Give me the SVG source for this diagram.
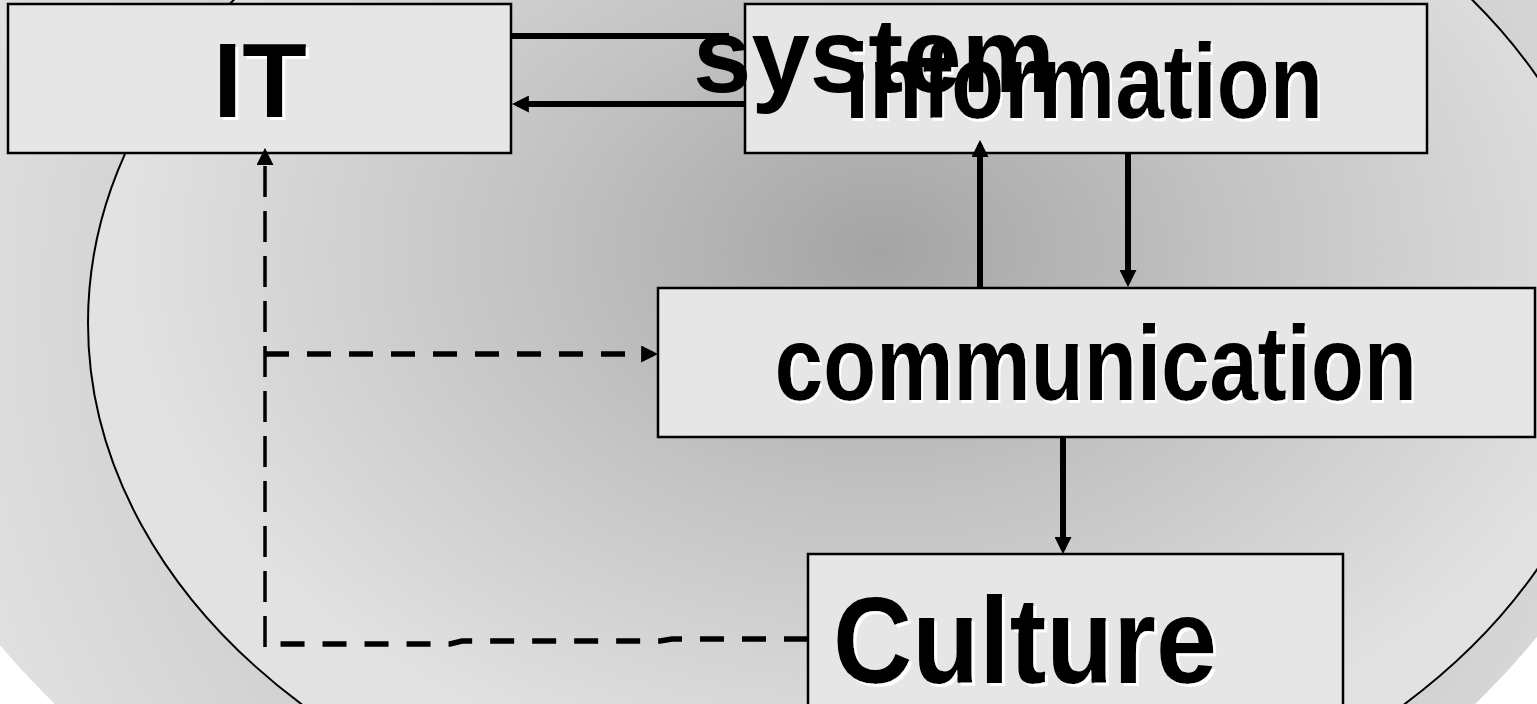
<svg xmlns="http://www.w3.org/2000/svg" width="1537" height="704" viewBox="0 0 1537 704">
<defs>
<radialGradient id="gOuter" gradientUnits="userSpaceOnUse" cx="850" cy="300" r="920">
<stop offset="0" stop-color="#b0b0b0"/>
<stop offset="0.7" stop-color="#cfcfcf"/>
<stop offset="1" stop-color="#e0e0e0"/>
</radialGradient>
<radialGradient id="gInner" cx="0.518" cy="0.434" r="0.5">
<stop offset="0" stop-color="#a4a4a4"/>
<stop offset="0.45" stop-color="#c2c2c2"/>
<stop offset="1" stop-color="#e2e2e2"/>
</radialGradient>
<filter id="shadow" x="-10%" y="-10%" width="120%" height="130%">
<feFlood flood-color="#ffffff" result="f"/>
<feComposite in="f" in2="SourceAlpha" operator="in" result="s"/>
<feOffset in="s" dx="3" dy="3" result="o"/>
<feMerge><feMergeNode in="o"/><feMergeNode in="SourceGraphic"/></feMerge>
</filter>
<marker id="ah" viewBox="0 0 10 10" refX="7" refY="5" markerWidth="17" markerHeight="17" markerUnits="userSpaceOnUse" orient="auto">
<path d="M0,0 L10,5 L0,10 z" fill="#000"/>
</marker>
</defs>
<style>
.box{fill:#e6e6e6;stroke:#000;stroke-width:2.5}
.lbl{font-family:"Liberation Sans",Arial,sans-serif;font-weight:bold;fill:#000;text-anchor:middle}
.solid{fill:none;stroke:#000;stroke-width:6}
.dash{fill:none;stroke:#000;stroke-width:5.5;stroke-dasharray:24 18}
.vdash{fill:none;stroke:#000;stroke-width:3.5;stroke-dasharray:31 14}
</style>
<rect width="1537" height="704" fill="#ffffff"/>
<ellipse cx="765" cy="200" rx="934" ry="776" fill="url(#gOuter)"/>
<ellipse cx="853" cy="323" rx="765" ry="550" fill="url(#gInner)" stroke="#000" stroke-width="2"/>
<g id="node-it">
<rect class="box" x="8" y="4" width="503" height="149"/>
<text class="lbl" x="260" y="117" font-size="106" filter="url(#shadow)">IT</text>
</g>
<g id="node-information">
<rect class="box" x="745" y="4" width="682" height="149"/>
<text class="lbl" transform="translate(1084,118) scale(0.82,1)" font-size="106" filter="url(#shadow)">information</text>
</g>
<g id="node-communication">
<rect class="box" x="658" y="288" width="877" height="149"/>
<text class="lbl" transform="translate(1096,400) scale(0.82,1)" font-size="106" filter="url(#shadow)">communication</text>
</g>
<g id="node-culture">
<rect class="box" x="808" y="554" width="535" height="152"/>
<text class="lbl" transform="translate(1025,683) scale(0.9,1)" font-size="122" filter="url(#shadow)">Culture</text>
</g>
<g id="connectors">
<line class="solid" x1="511" y1="36" x2="729" y2="36"/>
<line class="solid" x1="745" y1="104" x2="517" y2="104" marker-end="url(#ah)"/>
<line class="solid" x1="980" y1="288" x2="980" y2="145" marker-end="url(#ah)"/>
<line class="solid" x1="1128" y1="153" x2="1128" y2="282" marker-end="url(#ah)"/>
<line class="solid" x1="1063" y1="437" x2="1063" y2="549" marker-end="url(#ah)"/>
<path class="vdash" d="M265,647 L265,153" marker-end="url(#ah)"/>
<path class="dash" d="M265,354 L653,354" marker-end="url(#ah)"/>
<path class="dash" d="M808,639 L672,639 L660,641 L462,641 L450,644 L270,644"/>
</g>
<g id="title">
<text x="693" y="92" font-family="Liberation Sans,Arial,sans-serif" font-weight="bold" font-size="105" fill="#000">system</text>
</g>
</svg>
